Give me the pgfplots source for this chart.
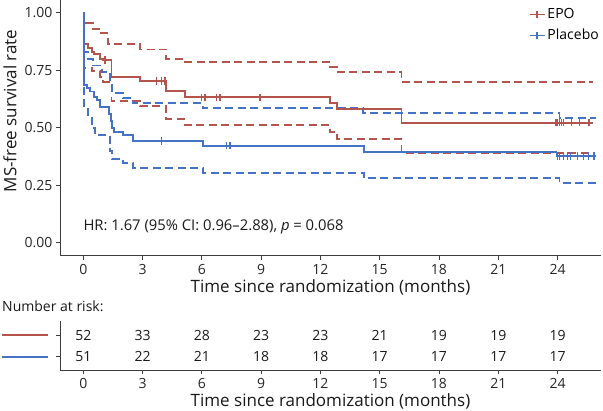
\documentclass[border=0pt]{standalone}
\usepackage{fontspec}
\setmainfont{Open Sans}
\usepackage{pgfplots}
\pgfplotsset{compat=1.18}
\definecolor{epo}{RGB}{181,84,76}
\definecolor{pla}{RGB}{68,114,196}
\definecolor{axgray}{RGB}{60,60,60}
\newcommand{\fs}{\fontsize{14}{16}\selectfont}
\newcommand{\fh}{\fontsize{14.8}{17}\selectfont}
\newcommand{\fl}{\fontsize{17}{20}\selectfont}

\pgfplotstableread{
t s
0 1
0.05 0.865
0.25 0.845
0.42 0.83
0.54 0.822
0.85 0.80
1.0 0.793
1.43 0.72
2.87 0.703
4.2 0.66
5.14 0.632
12.48 0.606
12.82 0.58
16.1 0.522
25.8 0.522
}\epoS
\pgfplotstableread{
t s
0 1
0.05 0.955
0.47 0.93
0.9 0.91
1.27 0.862
2.86 0.84
4.2 0.80
5.14 0.787
12.48 0.765
12.82 0.743
16.1 0.70
25.8 0.70
}\epoU
\pgfplotstableread{
t s
0 1
0.05 0.76
0.45 0.745
0.85 0.72
1.0 0.70
1.43 0.615
2.87 0.594
4.2 0.536
5.14 0.512
12.48 0.483
12.82 0.45
16.1 0.391
25.8 0.391
}\epoL
\pgfplotstableread{
t s
0 1
0.05 0.686
0.17 0.671
0.34 0.657
0.54 0.635
0.68 0.62
0.85 0.591
1.32 0.56
1.40 0.53
1.47 0.50
1.55 0.483
2.02 0.468
2.5 0.443
6.04 0.422
14.2 0.396
23.95 0.377
25.97 0.377
}\plaS
\pgfplotstableread{
t s
0 1
0.05 0.83
0.25 0.80
0.5 0.77
0.93 0.743
1.35 0.70
1.45 0.65
2.02 0.628
2.5 0.606
6.04 0.584
14.15 0.563
24.1 0.541
25.97 0.541
}\plaU
\pgfplotstableread{
t s
0 1
0.05 0.58
0.25 0.555
0.42 0.50
0.6 0.468
1.35 0.40
1.45 0.362
2.02 0.345
2.5 0.323
6.04 0.304
14.2 0.28
24.1 0.258
25.97 0.258
}\plaL
\pgfplotstableread{
t s
1.1 0.793
3.7 0.703
3.97 0.703
4.13 0.703
5.99 0.632
6.16 0.632
6.75 0.632
6.92 0.632
8.94 0.632
23.9 0.522
23.97 0.522
24.1 0.522
24.2 0.522
24.3 0.522
24.7 0.522
25.1 0.522
25.6 0.522
}\epoC
\pgfplotstableread{
t s
3.96 0.443
7.25 0.422
7.42 0.422
24.0 0.377
24.1 0.377
24.3 0.377
24.5 0.377
24.65 0.377
25.0 0.377
25.3 0.377
25.55 0.377
25.85 0.377
}\plaC

\pgfplotsset{
  km/.style={
    scale only axis,
    axis lines=left,
    axis line style={axgray, line width=0.9pt, -},
    xmin=-1.18, xmax=26.2,
    xtick={0,3,...,24},
    tick style={axgray, line width=0.9pt},
    tick align=outside,
    major tick length=4pt,
    tick label style={font=\fs, text=black!85},
    label style={font=\fl, text=black!90},
    /pgf/number format/assume math mode=true,
    xlabel={Time since randomization (months)},
    xlabel style={at={(axis description cs:0.5,0)}, anchor=center, yshift=-31.3pt},
    xticklabel style={yshift=-1pt},
  },
  solidkm/.style={const plot, line width=1.85pt, mark=none, forget plot},
  dashkm/.style={const plot, line width=1.85pt, mark=none, dash pattern=on 8pt off 4.5pt, forget plot},
}

\begin{document}
\begin{tikzpicture}
\path[use as bounding box] (0pt,0pt) rectangle (603pt,-411pt);

\begin{axis}[km,
  at={(60pt,-255.7pt)}, anchor=south west,
  width=541pt, height=255.7pt,
  ymin=-0.0565, ymax=1.055,
  ytick={0,0.25,0.5,0.75,1},
  yticklabel style={/pgf/number format/.cd, fixed, fixed zerofill, precision=2},
  ylabel={MS-free survival rate},
  ylabel style={at={(axis description cs:-0.0924,0.566)}, anchor=center},
  legend style={draw=none, fill=none, at={(axis description cs:1,1)}, anchor=north east,
    font=\fs, inner sep=0pt, row sep=5pt, cells={anchor=west}, yshift=-6.5pt},
  legend image code/.code={
    \draw[#1, mark=none] (0pt,0pt) -- (15pt,0pt);
    \draw[#1] plot coordinates {(7.5pt,0pt)};
  },
]
\addplot[dashkm, epo] table {\epoU};
\addplot[dashkm, epo] table {\epoL};
\addplot[dashkm, pla] table {\plaU};
\addplot[dashkm, pla] table {\plaL};
\addplot[solidkm, epo] table {\epoS};
\addplot[solidkm, pla] table {\plaS};
\addplot[only marks, epo, mark=|, mark size=3.8pt, mark options={line width=1.3pt}, forget plot] table {\epoC};
\addplot[only marks, pla, mark=|, mark size=3.8pt, mark options={line width=1.3pt}, forget plot] table {\plaC};
\addlegendimage{epo, line width=1.7pt, mark=+, mark size=3.8pt, mark options={line width=1.3pt}}
\addlegendentry{EPO}
\addlegendimage{pla, line width=1.7pt, mark=+, mark size=3.8pt, mark options={line width=1.3pt}}
\addlegendentry{Placebo}
\node[anchor=west, inner sep=0pt, font=\fh, text=black!90] at (axis cs:0,0.067)
  {HR: 1.67 (95\% CI: 0.96–2.88), \textit{p} = 0.068};
\end{axis}

\begin{axis}[km,
  at={(60pt,-370pt)}, anchor=south west,
  width=541pt, height=49.3pt,
  ymin=0.387, ymax=2.66,
  ytick={1,2},
  yticklabels={{\textcolor{pla}{\rule{46pt}{2pt}}},{\textcolor{epo}{\rule{46pt}{2pt}}}},
  yticklabel style={inner sep=0pt, xshift=-8pt},
  title={Number at risk:},
  title style={at={(axis description cs:-0.1072,1.284)}, anchor=west, inner sep=0pt, font=\fs, text=black!90, yshift=-6pt},
]
\addplot[draw=none, mark=none, nodes near coords, point meta=explicit symbolic,
  nodes near coords style={anchor=center, font=\fs, text=black!90}]
  coordinates {(0,2) [52] (3,2) [33] (6,2) [28] (9,2) [23] (12,2) [23] (15,2) [21] (18,2) [19] (21,2) [19] (24,2) [19]
               (0,1) [51] (3,1) [22] (6,1) [21] (9,1) [18] (12,1) [18] (15,1) [17] (18,1) [17] (21,1) [17] (24,1) [17]};
\end{axis}
\end{tikzpicture}
\end{document}
